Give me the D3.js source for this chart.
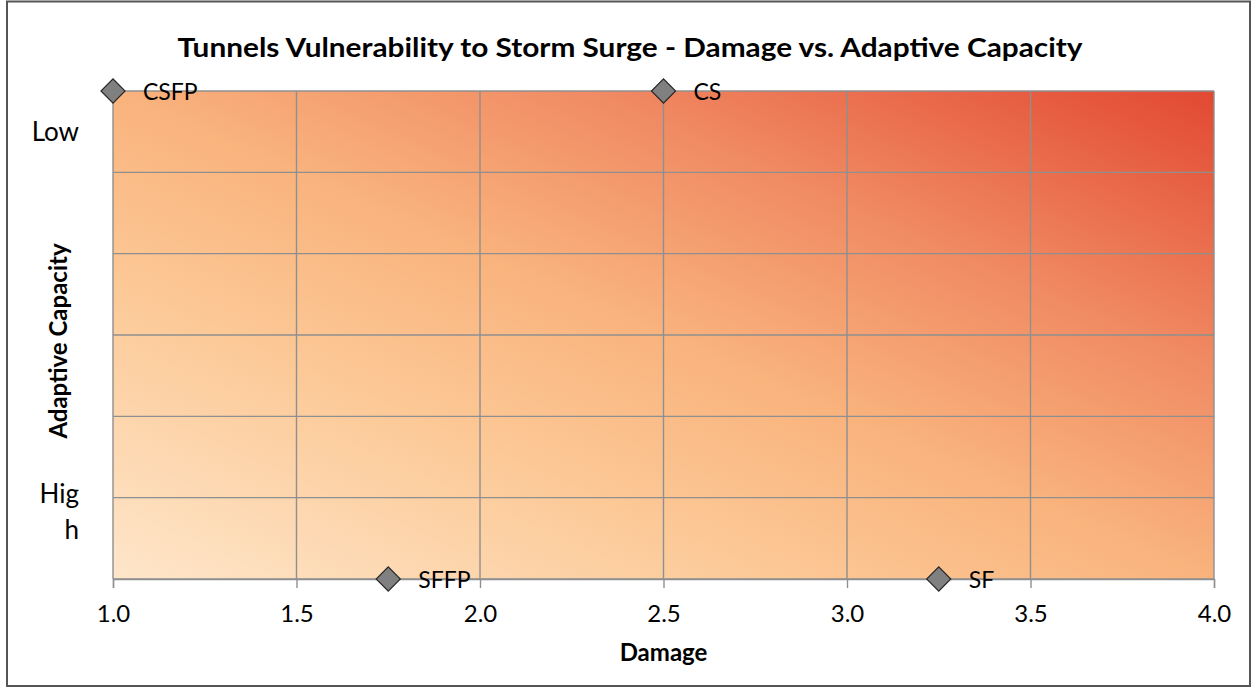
<!DOCTYPE html>
<html>
<head>
<meta charset="utf-8">
<script src="https://cdn.jsdelivr.net/npm/d3@7"></script>
<style>
  html, body { margin: 0; padding: 0; background: #ffffff; }
  svg { display: block; }
  text { font-family: Lato, "Open Sans", sans-serif; fill: #000; }
</style>
</head>
<body>
<svg id="chart" width="1253" height="688"></svg>
<script>
// Tunnel vulnerability to storm surge
const tunnels = ["CSFP", "CS", "SFFP", "SF"];
const damage = [1.0, 2.5, 1.75, 3.25];
const adaptiveScore = [4, 4, 1, 1];          // 4 = low adaptive capacity, 1 = high
const xTicks = [1.0, 1.5, 2.0, 2.5, 3.0, 3.5, 4.0];
const yGrid = [1.0, 1.5, 2.0, 2.5, 3.0, 3.5, 4.0];
const capacityLabels = ["Low", "High"];

const title = "Tunnels Vulnerability to Storm Surge - Damage vs. Adaptive Capacity";
const xTitle = "Damage";
const yTitle = "Adaptive Capacity";

const svg = d3.select("#chart");
const plot = { left: 113, right: 1214, top: 91, bottom: 579 };

const x = d3.scaleLinear().domain([1, 4]).range([plot.left, plot.right]);
const y = d3.scaleLinear().domain([1, 4]).range([plot.bottom, plot.top]);

// chart frame
svg.append("rect")
  .attr("x", 7).attr("y", 1.5).attr("width", 1243).attr("height", 684.5)
  .attr("fill", "#fff").attr("stroke", "#555").attr("stroke-width", 2);

// diagonal heat gradient: light (bottom-left) to red (top-right)
const defs = svg.append("defs");
const grad = defs.append("linearGradient").attr("id", "heat")
  .attr("x1", 0).attr("y1", 1).attr("x2", 1).attr("y2", 0);
[[0, "#fee6ca"], [0.3, "#fcc997"], [0.5, "#f9b37d"], [0.72, "#f08a63"], [1, "#e24832"]]
  .forEach(([o, c]) => grad.append("stop").attr("offset", o).attr("stop-color", c));

svg.append("rect")
  .attr("x", x(1)).attr("y", y(4))
  .attr("width", x(4) - x(1)).attr("height", y(1) - y(4))
  .attr("fill", "url(#heat)");

// gridlines
const gridColor = "#8f8f8f";
const g = svg.append("g");
g.selectAll("line.h").data(yGrid).join("line").attr("class", "h")
  .attr("x1", x(1)).attr("x2", x(4))
  .attr("y1", d => y(d)).attr("y2", d => y(d))
  .attr("stroke", gridColor).attr("stroke-width", 1.4);
g.selectAll("line.v").data(xTicks).join("line").attr("class", "v")
  .attr("x1", d => x(d)).attr("x2", d => x(d))
  .attr("y1", y(4)).attr("y2", y(1))
  .attr("stroke", gridColor).attr("stroke-width", 1.4);

// x axis
const xAxis = svg.append("g")
  .attr("transform", `translate(0,${plot.bottom})`)
  .call(d3.axisBottom(x).tickValues(xTicks).tickFormat(d3.format(".1f"))
    .tickSize(9).tickPadding(17));
xAxis.select(".domain").attr("stroke", gridColor).attr("stroke-width", 1.4);
xAxis.selectAll(".tick line").attr("stroke", gridColor).attr("stroke-width", 1.4);
xAxis.selectAll(".tick text")
  .attr("font-family", "Lato, sans-serif").attr("font-size", 24).attr("fill", "#000");

// y category labels
svg.append("text")
  .attr("x", 79).attr("y", (y(4) + y(3.5)) / 2 + 9)
  .attr("text-anchor", "end").attr("font-size", 26)
  .text(capacityLabels[0]);
const hi = svg.append("text")
  .attr("x", 79).attr("y", y(1.5) + 5)
  .attr("text-anchor", "end").attr("font-size", 26);
hi.append("tspan").attr("x", 79).text(capacityLabels[1].slice(0, 3));
hi.append("tspan").attr("x", 79).attr("dy", 36).text(capacityLabels[1].slice(3));

// titles
svg.append("text")
  .attr("x", 630).attr("y", 57)
  .attr("text-anchor", "middle").attr("font-weight", 700).attr("font-size", 27)
  .attr("textLength", 905).attr("lengthAdjust", "spacingAndGlyphs")
  .text(title);
svg.append("text")
  .attr("x", (plot.left + plot.right) / 2).attr("y", 661)
  .attr("text-anchor", "middle").attr("font-weight", 700).attr("font-size", 24)
  .text(xTitle);
svg.append("text")
  .attr("transform", `translate(67,${(plot.top + plot.bottom) / 2 + 6}) rotate(-90)`)
  .attr("text-anchor", "middle").attr("font-weight", 700).attr("font-size", 24)
  .text(yTitle);

// points
const pts = tunnels.map((name, i) => ({ name, d: damage[i], a: adaptiveScore[i] }));
const sym = d3.symbol().type(d3.symbolSquare).size(290);
const pg = svg.append("g");
pg.selectAll("path").data(pts).join("path")
  .attr("d", sym)
  .attr("transform", d => `translate(${x(d.d)},${y(d.a)}) rotate(45)`)
  .attr("fill", "#808080").attr("stroke", "#262626").attr("stroke-width", 1.2);
pg.selectAll("text").data(pts).join("text")
  .attr("x", d => x(d.d) + 30).attr("y", d => y(d.a) + 8.5)
  .attr("font-size", 23)
  .text(d => d.name);
</script>
</body>
</html>
